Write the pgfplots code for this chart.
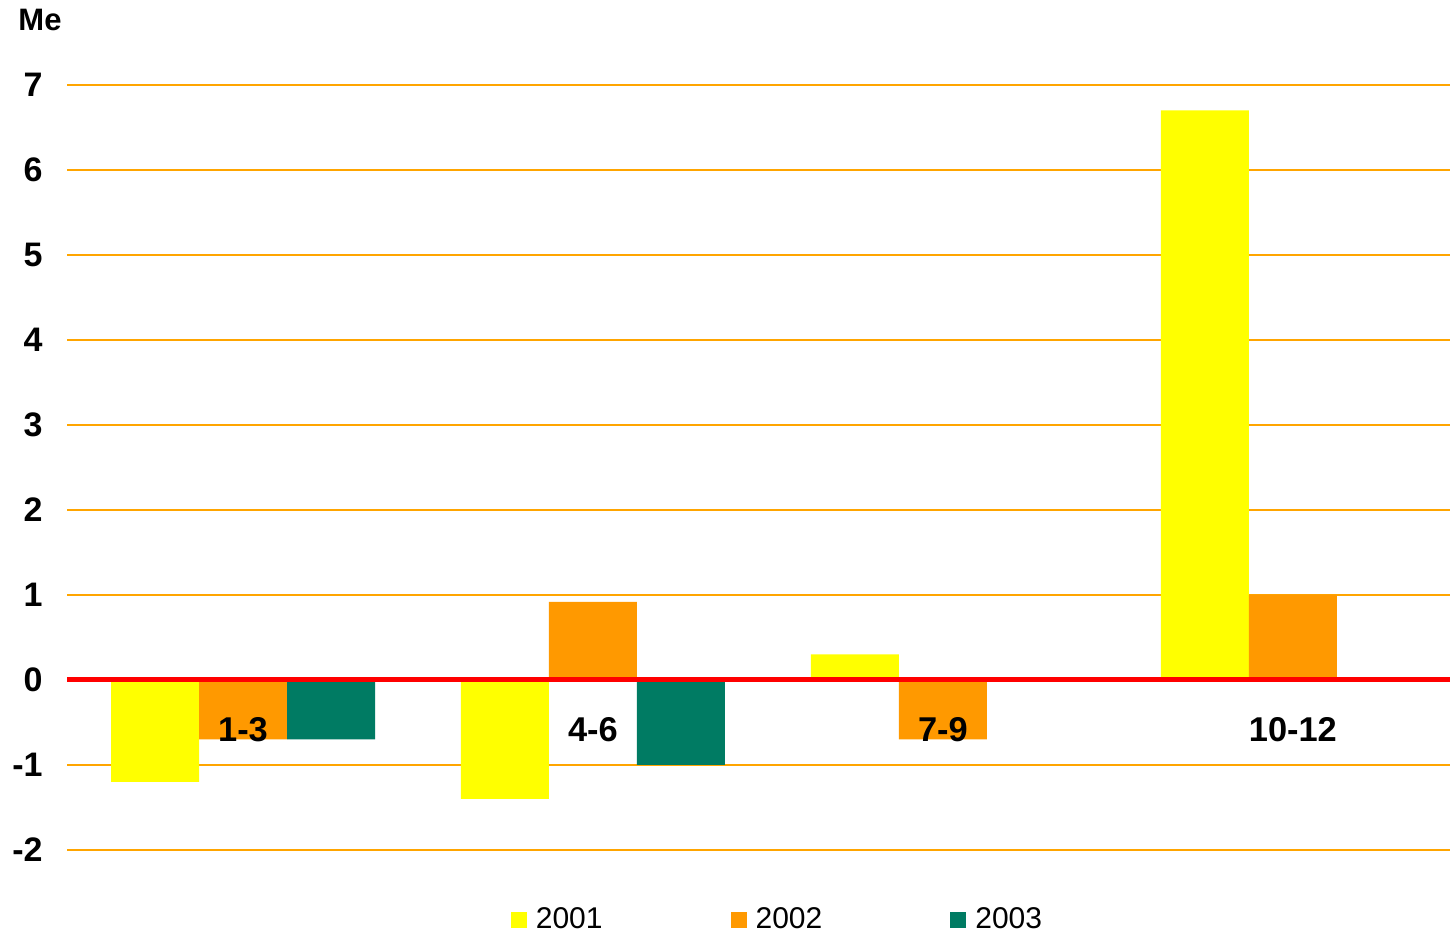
\documentclass[border=0pt]{standalone}
\usepackage{pgfplots}
\pgfplotsset{compat=1.18}
\usepackage{fontspec}
\setmainfont{Liberation Sans}
\definecolor{cyel}{HTML}{FFFF00}
\definecolor{corg}{HTML}{FF9900}
\definecolor{cgrn}{HTML}{007B63}
\definecolor{cgrid}{HTML}{FFA500}
\begin{document}
\begin{tikzpicture}
\begin{axis}[
  name=ax,
  scale only axis,
  width=691.5pt, height=382.5pt,
  xmin=-0.503, xmax=3.449,
  ymin=-2, ymax=7,
  ytick={-2,-1,0,1,2,3,4,5,6,7},
  xtick=\empty,
  axis line style={draw=none},
  major tick length=0pt,
  ymajorgrids,
  grid style={cgrid, line width=0.7pt},
  /pgf/number format/assume math mode=true,
  yticklabel style={font=\fontsize{17}{20}\selectfont\bfseries, anchor=east, inner sep=0pt, xshift=-12pt},
  ybar, bar width=44pt,
  legend columns=3,
  legend style={draw=none, fill=none, at={(0.513,-0.0915)}, anchor=center,
    font=\fontsize{15}{17}\selectfont, inner sep=0pt,
    nodes={inner sep=0pt},
    /tikz/every odd column/.append style={column sep=4.5pt},
    /tikz/every even column/.append style={column sep=64pt}},
  legend image code/.code={\fill[#1] (0pt,-4.2pt) rectangle (8pt,4.2pt);},
  clip=false,
]
\addplot[fill=cyel, draw=none, bar shift=-44pt] coordinates {(0,-1.2) (1,-1.4) (2,0.3) (3,6.7)};
\addplot[fill=corg, draw=none, bar shift=0pt] coordinates {(0,-0.7) (1,0.92) (2,-0.7) (3,1.0)};
\addplot[fill=cgrn, draw=none, bar shift=44pt] coordinates {(0,-0.7) (1,-1.0)};
\legend{2001,2002,2003}
\addplot[sharp plot, red, line width=2.5pt, forget plot] coordinates {(-0.503,0) (3.449,0)};
\node[font=\fontsize{17.2}{20}\selectfont\bfseries, yshift=-25pt] at (axis cs:0,0) {1-3};
\node[font=\fontsize{17.2}{20}\selectfont\bfseries, yshift=-25pt] at (axis cs:1,0) {4-6};
\node[font=\fontsize{17.2}{20}\selectfont\bfseries, yshift=-25pt] at (axis cs:2,0) {7-9};
\node[font=\fontsize{17.2}{20}\selectfont\bfseries, yshift=-25pt] at (axis cs:3,0) {10-12};
\end{axis}
\node[font=\fontsize{15.5}{17}\selectfont\bfseries] at ([xshift=-13.5pt, yshift=32.5pt]ax.north west) {Me};
\pgfresetboundingbox
\path ([xshift=-33.5pt, yshift=-42.5pt]ax.south west) rectangle ([yshift=42.5pt]ax.north east);
\end{tikzpicture}
\end{document}
